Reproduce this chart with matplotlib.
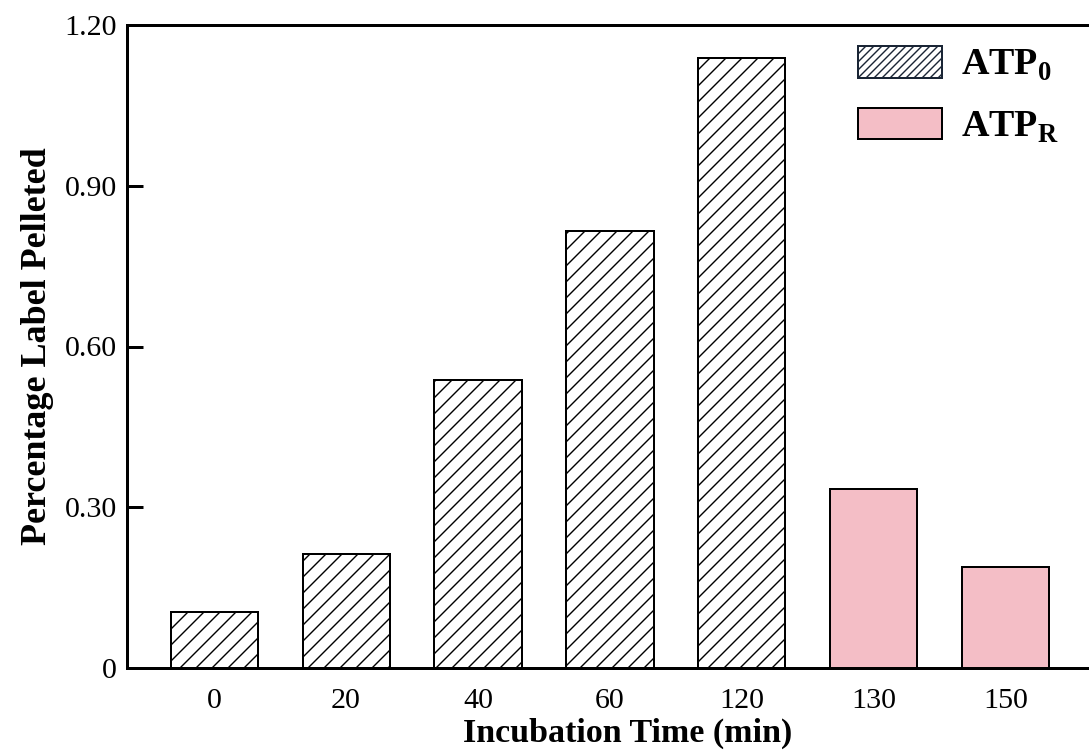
import matplotlib
matplotlib.use('Agg')
import matplotlib.pyplot as plt
import numpy as np

# incubation times and fraction of label pelleted
times = ['0', '20', '40', '60', '120', '130', '150']
values = [0.105, 0.213, 0.537, 0.816, 1.138, 0.334, 0.189]
groups = ['D', 'D', 'D', 'D', 'D', 'R', 'R']
y_ticks = [0, 0.30, 0.60, 0.90, 1.20]
y_ticklabels = ['0', '0.30', '0.60', '0.90', '1.20']

plt.rcParams['font.family'] = 'Liberation Serif'
plt.rcParams['mathtext.fontset'] = 'custom'
plt.rcParams['mathtext.rm'] = 'Liberation Serif'
plt.rcParams['mathtext.bf'] = 'Liberation Serif:bold'
plt.rcParams['hatch.linewidth'] = 0.7

pink = '#f4bec6'

fig = plt.figure(figsize=(1089 / 144, 753 / 144), dpi=144)
ax = fig.add_axes([127 / 1089, 1 - 668 / 753, 1 - 127 / 1089, (668 - 25) / 753])

x = np.arange(len(times))
for i in range(len(times)):
    if groups[i] == 'D':
        ax.bar(x[i], values[i], width=0.66, color='white', edgecolor='black',
               hatch='///', lw=1.0, zorder=2)
    else:
        ax.bar(x[i], values[i], width=0.66, color=pink, edgecolor='black',
               lw=1.0, zorder=2)

ax.set_xlim(-0.66, 6.63)
ax.set_ylim(0, 1.20)
ax.spines['right'].set_visible(False)
for s in ['left', 'top', 'bottom']:
    ax.spines[s].set_linewidth(1.5)

ax.set_yticks(y_ticks)
ax.set_yticklabels(y_ticklabels)
ax.set_xticks(x)
ax.set_xticklabels(times)
ax.tick_params(axis='y', direction='in', length=8, width=1.5, pad=5, labelsize=15)
ax.tick_params(axis='x', length=0, pad=10, labelsize=15)

ax.set_xlabel('Incubation Time (min)', fontsize=17, fontweight='bold')
ax.set_ylabel('Percentage Label Pelleted', fontsize=18, fontweight='bold', labelpad=5)
ax.xaxis.set_label_coords(0.52, -0.078)

h1 = plt.Rectangle((0, 0), 1, 1, facecolor='white', edgecolor='#1a2535', hatch='//////', lw=1.0)
h2 = plt.Rectangle((0, 0), 1, 1, facecolor=pink, edgecolor='black', lw=1.0)
leg = ax.legend([h1, h2], [r'ATP$_\mathbf{0}$', r'ATP$_\mathbf{R}$'],
                loc='upper left', bbox_to_anchor=(858 / 1089, 1 - 46 / 753),
                bbox_transform=fig.transFigure, frameon=False,
                prop={'size': 19, 'weight': 'bold'},
                handlelength=2.2, handleheight=0.9, handletextpad=0.5,
                labelspacing=0.65, borderpad=0, borderaxespad=0)

plt.savefig('out.png', dpi=144)
